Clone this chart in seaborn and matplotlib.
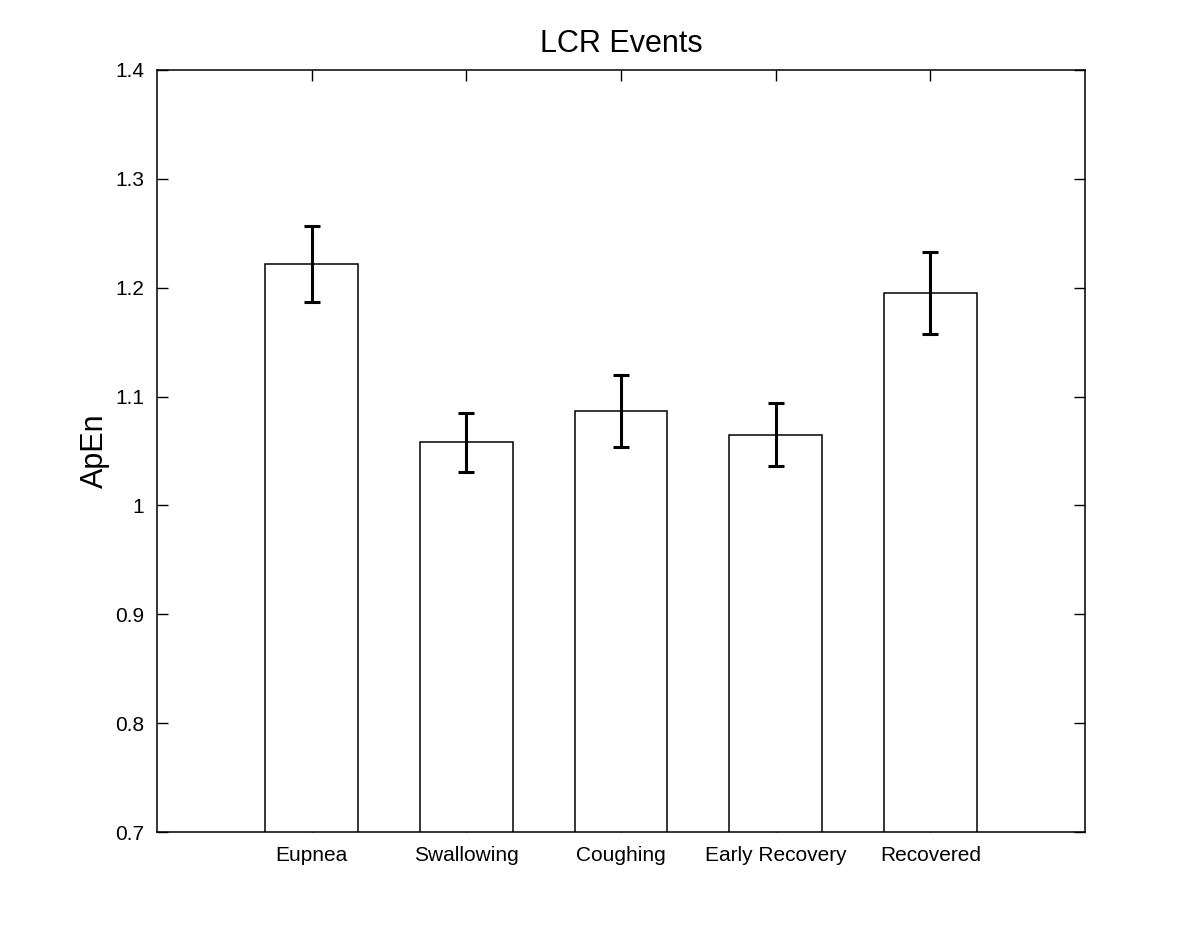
import matplotlib
matplotlib.use("Agg")
import matplotlib.pyplot as plt
import seaborn as sns
import pandas as pd

# Dados
eventos = ['Eupnea', 'Swallowing', 'Coughing', 'Early Recovery', 'Recovered']
apen_media = [1.222, 1.058, 1.087, 1.065, 1.195]
apen_erro = [0.035, 0.027, 0.033, 0.029, 0.0375]

df = pd.DataFrame({'Evento': eventos, 'ApEn': apen_media})

sns.set_style("white")
plt.rcParams['font.family'] = ['Liberation Sans', 'DejaVu Sans']
plt.rcParams['text.color'] = 'black'
plt.rcParams['axes.labelcolor'] = 'black'
plt.rcParams['xtick.color'] = 'black'
plt.rcParams['ytick.color'] = 'black'

fig = plt.figure(figsize=(12, 9.38), dpi=100)
ax = fig.add_axes([0.1308, 0.113, 0.9042 - 0.1308, 0.9254 - 0.113])

sns.barplot(data=df, x='Evento', y='ApEn', color='white', edgecolor='black',
            linewidth=1.1, width=0.6, ax=ax, errorbar=None, zorder=2)
ax.errorbar(range(len(eventos)), apen_media, yerr=apen_erro, fmt='none',
            ecolor='black', elinewidth=2.2, capsize=6, capthick=2.2, zorder=3)

ax.set_xlim(-1, 5)
ax.set_ylim(0.7, 1.4)
ax.set_yticks([0.7, 0.8, 0.9, 1.0, 1.1, 1.2, 1.3, 1.4])
ax.set_yticklabels(['0.7', '0.8', '0.9', '1', '1.1', '1.2', '1.3', '1.4'])
ax.set_xlabel('')
ax.set_ylabel('ApEn', fontsize=22, labelpad=4, color='black')
ax.set_title('LCR Events', fontsize=22, pad=13, color='black')

ax.tick_params(axis='both', which='both', direction='in', length=8, width=1,
               top=True, right=True, bottom=True, left=True, labelsize=15,
               colors='black')
ax.tick_params(axis='x', pad=10)
ax.tick_params(axis='y', pad=9)
for s in ax.spines.values():
    s.set_visible(True)
    s.set_color('black')
    s.set_linewidth(1.1)
    s.set_zorder(5)

fig.savefig('out.png', dpi=100)
